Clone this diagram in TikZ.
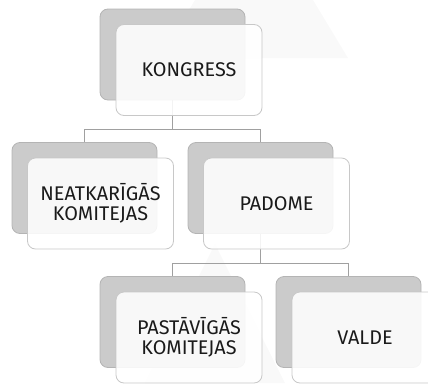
\documentclass[tikz,border=0pt]{standalone}
\usepackage{fontspec}
\setmainfont{Fira Sans}
\definecolor{backgray}{HTML}{CBCBCB}
\definecolor{backline}{HTML}{B4B4B4}
\definecolor{frontline}{HTML}{C8C8C8}
\definecolor{linkgray}{HTML}{A0A0A0}
\definecolor{watermark}{HTML}{F9F9F9}
\definecolor{txt}{HTML}{1A1A1A}
\tikzset{
  backbox/.style={draw=backline, fill=backgray, rounded corners=8pt, minimum width=145pt, minimum height=91pt, inner sep=0pt, line width=0.8pt},
  frontbox/.style={draw=frontline, fill=white, fill opacity=0.88, text opacity=1, rounded corners=8pt, minimum width=146pt, minimum height=91pt, inner sep=0pt, line width=0.8pt, align=center, text=txt, font=\fontsize{19.8}{20}\selectfont},
  link/.style={draw=linkgray, line width=0.8pt}
}
\begin{document}
\begin{tikzpicture}[x=1pt,y=-1pt]
\useasboundingbox (0,0) rectangle (428,383);
\clip (0,0) rectangle (428,383);
% faint watermark shapes
\fill[watermark] (160,58) -- (195,0) -- (313,0) -- (348,58) -- cycle;
\fill[watermark] (215,244) -- (145,383) -- (285,383) -- cycle;
% back boxes
\node[backbox] (kB) at (172.5,54.5) {};
\node[backbox] (nB) at (84.5,188) {};
\node[backbox] (pB) at (260.5,188) {};
\node[backbox] (sB) at (172.5,322) {};
\node[backbox] (vB) at (348.5,322) {};
% connectors
\draw[link] (kB.south) -- ++(0,29) -| (nB.north);
\draw[link] (kB.south) -- ++(0,29) -| (pB.north);
\draw[link] (pB.south) -- ++(0,29.5) -| (sB.north);
\draw[link] (pB.south) -- ++(0,29.5) -| (vB.north);
% front boxes
\node[frontbox] (kF) at (189,70) {KONGRESS};
\node[frontbox] (nF) at (100.5,203.5) {NEATKARĪGĀS\\KOMITEJAS};
\node[frontbox] (pF) at (276.5,203.5) {PADOME};
\node[frontbox] (sF) at (189,337.5) {PASTĀVĪGĀS\\KOMITEJAS};
\node[frontbox] (vF) at (365,337.5) {VALDE};
\end{tikzpicture}
\end{document}
